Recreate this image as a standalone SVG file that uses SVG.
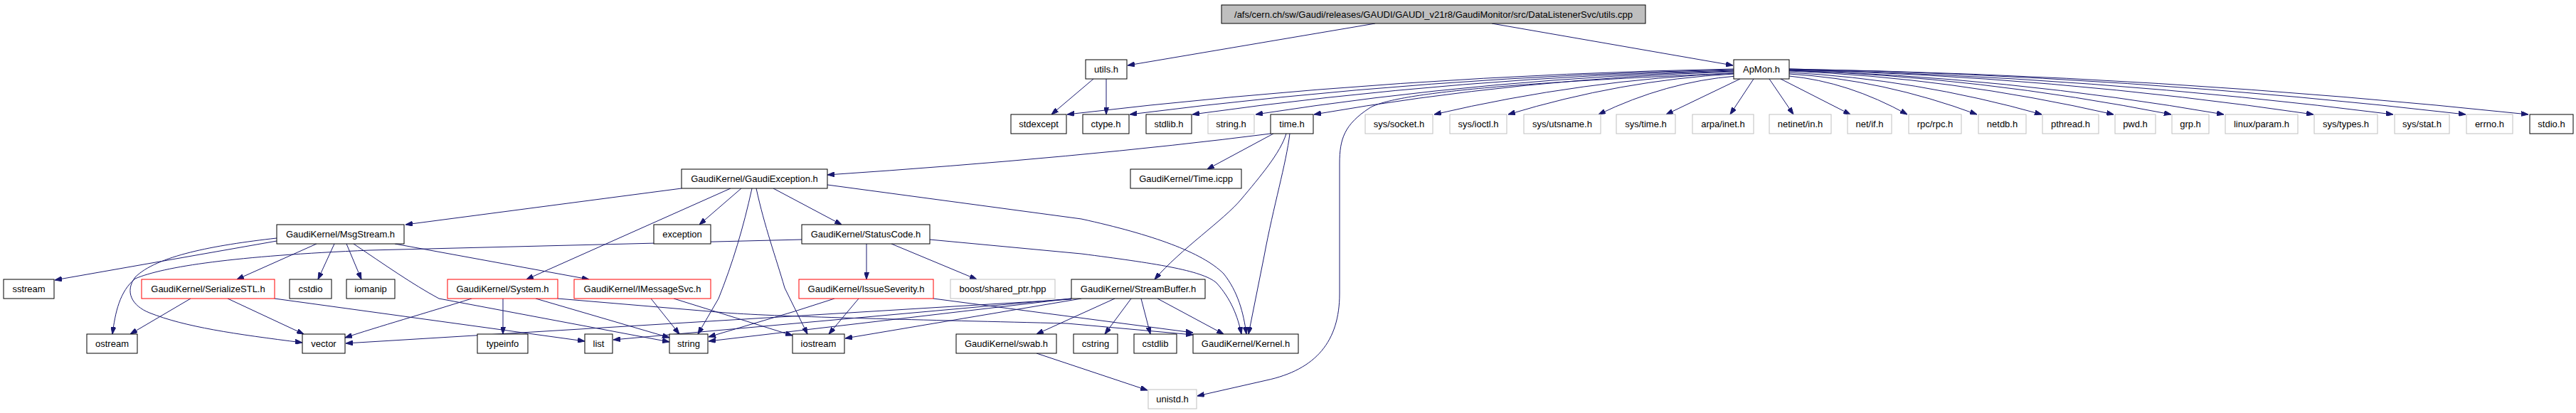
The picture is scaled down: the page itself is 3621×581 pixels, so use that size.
<svg xmlns="http://www.w3.org/2000/svg" width="3621" height="581" viewBox="0 0 3621 581">
<style>
rect{fill:#fff;stroke:#000;stroke-width:1}
.g rect{stroke:#bfbfbf}
.r rect{stroke:#f00}
.root rect{fill:#bfbfbf}
text{font-family:"Liberation Sans",Arial,Helvetica,sans-serif;font-size:13px;text-anchor:middle;fill:#000}
#edges path{fill:none;stroke:#191970;stroke-width:1;marker-end:url(#a)}
</style>
<defs>
<marker id="a" viewBox="0 0 10 7" refX="10" refY="3.5" markerWidth="10" markerHeight="7" markerUnits="userSpaceOnUse" orient="auto">
<path d="M0,0 L10,3.5 L0,7 z" fill="#191970" stroke="#191970"/>
</marker>
</defs>
<rect x="0" y="0" width="3621" height="581" style="fill:#fff;stroke:none"/>
<g id="edges">
<path d="M1933,33 L1585,92"/>
<path d="M2097,33 L2436,92"/>
<path d="M1537,111 L1478,161"/>
<path d="M1555,111 L1555,161"/>
<path d="M2437,97 Q1968,106 1500,161"/>
<path d="M2437,98 Q2012,107 1588,161"/>
<path d="M2437,99 Q2056,108 1676,161"/>
<path d="M2437,100 Q2101,109 1765,161"/>
<path d="M2437,101 Q2142,110 1847,161"/>
<path d="M2437,103 Q2226,112 2016,161"/>
<path d="M2437,104 Q2278,113 2120,161"/>
<path d="M2440,107 Q2342,115 2247,161"/>
<path d="M2446,111 L2342,161"/>
<path d="M2465,111 L2432,161"/>
<path d="M2487,111 L2521,161"/>
<path d="M2503,111 L2601,161"/>
<path d="M2515,107 Q2598,115 2681,161"/>
<path d="M2515,104 Q2647,112 2779,161"/>
<path d="M2515,102 Q2692,111 2870,161"/>
<path d="M2515,100 Q2743,109 2971,161"/>
<path d="M2515,99 Q2783,108 3052,161"/>
<path d="M2515,99 Q2820,108 3126,161"/>
<path d="M2515,98 Q2883,107 3252,161"/>
<path d="M2515,98 Q2939,107 3364,161"/>
<path d="M2515,97 Q2990,106 3466,161"/>
<path d="M2515,97 Q3034,106 3554,161"/>
<path d="M2437,103 C2150,115 1960,130 1925,152 C1890,175 1883,195 1883,230 L1883,413 C1883,480 1850,520 1780,535 L1683,557"/>
<path d="M1786,188 Q1520,222 1163,246"/>
<path d="M1790,188 L1697,238"/>
<path d="M1808,188 C1800,215 1770,250 1745,280 C1720,310 1660,350 1623,393"/>
<path d="M1813,188 C1808,230 1790,290 1777,360 L1755,470"/>
<path d="M958,265 L570,316"/>
<path d="M1042,265 L983,316"/>
<path d="M1027,265 L740,393"/>
<path d="M1063,265 C1075,320 1090,360 1103,405 L1135,470"/>
<path d="M1057,265 C1045,320 1030,370 1010,420 L981,470"/>
<path d="M1087,265 L1183,316"/>
<path d="M1163,260 L1520,308 C1620,330 1690,355 1720,385 C1740,410 1748,440 1752,470"/>
<path d="M1218,343 L1218,393"/>
<path d="M1253,343 L1373,393"/>
<path d="M1307,337 L1520,357 C1620,370 1690,380 1710,398 C1730,420 1740,445 1745,470"/>
<path d="M1127,337 L520,352 C330,360 230,375 190,392 C168,410 162,440 158,470"/>
<path d="M389,339 L77,394"/>
<path d="M389,335 C300,345 220,360 190,390 C175,410 185,430 210,440 C260,460 330,470 425,482"/>
<path d="M445,343 L333,393"/>
<path d="M470,343 L447,393"/>
<path d="M487,343 L508,393"/>
<path d="M555,343 L828,393"/>
<path d="M497,343 C540,372 580,400 617,420 L941,481"/>
<path d="M268,420 L183,470"/>
<path d="M320,420 L427,470"/>
<path d="M386,420 L822,480"/>
<path d="M663,420 C600,440 530,460 485,475"/>
<path d="M707,420 L707,470"/>
<path d="M753,420 L941,475"/>
<path d="M784,420 L1020,440 C1100,446 1300,450 1500,455 L1677,471"/>
<path d="M915,420 L955,470"/>
<path d="M947,420 L1114,472"/>
<path d="M1173,420 L1117,438 L996,474"/>
<path d="M1207,420 L1165,470"/>
<path d="M1312,420 L1677,468"/>
<path d="M1567,420 L1457,470"/>
<path d="M1590,420 L1553,470"/>
<path d="M1604,420 L1617,470"/>
<path d="M1627,420 L1720,470"/>
<path d="M1506,421 L486,483"/>
<path d="M1506,420 L862,478"/>
<path d="M1506,420 L996,480"/>
<path d="M1520,420 L1188,476"/>
<path d="M1457,497 L1613,549"/>
</g>
<g id="nodes">
<g id="n-root" class="root"><rect x="1717" y="7" width="596" height="26"/><text x="2015" y="25">/afs/cern.ch/sw/Gaudi/releases/GAUDI/GAUDI_v21r8/GaudiMonitor/src/DataListenerSvc/utils.cpp</text></g>
<g id="n-utils"><rect x="1526" y="84" width="58" height="27"/><text x="1555" y="102">utils.h</text></g>
<g id="n-apmon"><rect x="2437" y="84" width="78" height="27"/><text x="2476" y="102">ApMon.h</text></g>
<g id="n-stdexcept"><rect x="1421" y="161" width="78" height="27"/><text x="1460" y="179">stdexcept</text></g>
<g id="n-ctype"><rect x="1522" y="161" width="65" height="27"/><text x="1554.5" y="179">ctype.h</text></g>
<g id="n-stdlib"><rect x="1611" y="161" width="64" height="27"/><text x="1643" y="179">stdlib.h</text></g>
<g id="n-string_h" class="g"><rect x="1698" y="161" width="65" height="27"/><text x="1730.5" y="179">string.h</text></g>
<g id="n-time"><rect x="1786" y="161" width="60" height="27"/><text x="1816" y="179">time.h</text></g>
<g id="n-sys_socket" class="g"><rect x="1919" y="161" width="95" height="27"/><text x="1966.5" y="179">sys/socket.h</text></g>
<g id="n-sys_ioctl" class="g"><rect x="2038" y="161" width="80" height="27"/><text x="2078" y="179">sys/ioctl.h</text></g>
<g id="n-sys_utsname" class="g"><rect x="2142" y="161" width="108" height="27"/><text x="2196" y="179">sys/utsname.h</text></g>
<g id="n-sys_time" class="g"><rect x="2272" y="161" width="83" height="27"/><text x="2313.5" y="179">sys/time.h</text></g>
<g id="n-arpa_inet" class="g"><rect x="2379" y="161" width="86" height="27"/><text x="2422" y="179">arpa/inet.h</text></g>
<g id="n-netinet_in" class="g"><rect x="2487" y="161" width="87" height="27"/><text x="2530.5" y="179">netinet/in.h</text></g>
<g id="n-net_if" class="g"><rect x="2597" y="161" width="62" height="27"/><text x="2628" y="179">net/if.h</text></g>
<g id="n-rpc_rpc" class="g"><rect x="2683" y="161" width="74" height="27"/><text x="2720" y="179">rpc/rpc.h</text></g>
<g id="n-netdb" class="g"><rect x="2781" y="161" width="67" height="27"/><text x="2814.5" y="179">netdb.h</text></g>
<g id="n-pthread" class="g"><rect x="2871" y="161" width="79" height="27"/><text x="2910.5" y="179">pthread.h</text></g>
<g id="n-pwd" class="g"><rect x="2973" y="161" width="57" height="27"/><text x="3001.5" y="179">pwd.h</text></g>
<g id="n-grp" class="g"><rect x="3053" y="161" width="52" height="27"/><text x="3079" y="179">grp.h</text></g>
<g id="n-linux_param" class="g"><rect x="3128" y="161" width="102" height="27"/><text x="3179" y="179">linux/param.h</text></g>
<g id="n-sys_types" class="g"><rect x="3253" y="161" width="89" height="27"/><text x="3297.5" y="179">sys/types.h</text></g>
<g id="n-sys_stat" class="g"><rect x="3366" y="161" width="77" height="27"/><text x="3404.5" y="179">sys/stat.h</text></g>
<g id="n-errno" class="g"><rect x="3467" y="161" width="65" height="27"/><text x="3499.5" y="179">errno.h</text></g>
<g id="n-stdio"><rect x="3556" y="161" width="61" height="27"/><text x="3586.5" y="179">stdio.h</text></g>
<g id="n-gaudiexception"><rect x="958" y="238" width="205" height="27"/><text x="1060.5" y="256">GaudiKernel/GaudiException.h</text></g>
<g id="n-time_icpp"><rect x="1589" y="238" width="156" height="27"/><text x="1667" y="256">GaudiKernel/Time.icpp</text></g>
<g id="n-msgstream"><rect x="389" y="316" width="179" height="27"/><text x="478.5" y="334">GaudiKernel/MsgStream.h</text></g>
<g id="n-exception"><rect x="919" y="316" width="80" height="27"/><text x="959" y="334">exception</text></g>
<g id="n-statuscode"><rect x="1127" y="316" width="180" height="27"/><text x="1217" y="334">GaudiKernel/StatusCode.h</text></g>
<g id="n-sstream"><rect x="5" y="393" width="71" height="27"/><text x="40.5" y="411">sstream</text></g>
<g id="n-serializestl" class="r"><rect x="199" y="393" width="187" height="27"/><text x="292.5" y="411">GaudiKernel/SerializeSTL.h</text></g>
<g id="n-cstdio"><rect x="407" y="393" width="59" height="27"/><text x="436.5" y="411">cstdio</text></g>
<g id="n-iomanip"><rect x="487" y="393" width="68" height="27"/><text x="521" y="411">iomanip</text></g>
<g id="n-system" class="r"><rect x="629" y="393" width="155" height="27"/><text x="706.5" y="411">GaudiKernel/System.h</text></g>
<g id="n-imessagesvc" class="r"><rect x="807" y="393" width="192" height="27"/><text x="903" y="411">GaudiKernel/IMessageSvc.h</text></g>
<g id="n-issueseverity" class="r"><rect x="1123" y="393" width="189" height="27"/><text x="1217.5" y="411">GaudiKernel/IssueSeverity.h</text></g>
<g id="n-boost" class="g"><rect x="1336" y="393" width="147" height="27"/><text x="1409.5" y="411">boost/shared_ptr.hpp</text></g>
<g id="n-streambuffer"><rect x="1506" y="393" width="188" height="27"/><text x="1600" y="411">GaudiKernel/StreamBuffer.h</text></g>
<g id="n-ostream"><rect x="122" y="470" width="71" height="27"/><text x="157.5" y="488">ostream</text></g>
<g id="n-vector"><rect x="425" y="470" width="60" height="27"/><text x="455" y="488">vector</text></g>
<g id="n-typeinfo"><rect x="671" y="470" width="71" height="27"/><text x="706.5" y="488">typeinfo</text></g>
<g id="n-list"><rect x="822" y="470" width="39" height="27"/><text x="841.5" y="488">list</text></g>
<g id="n-string"><rect x="941" y="470" width="54" height="27"/><text x="968" y="488">string</text></g>
<g id="n-iostream"><rect x="1114" y="470" width="73" height="27"/><text x="1150.5" y="488">iostream</text></g>
<g id="n-swab"><rect x="1344" y="470" width="141" height="27"/><text x="1414.5" y="488">GaudiKernel/swab.h</text></g>
<g id="n-cstring"><rect x="1509" y="470" width="62" height="27"/><text x="1540" y="488">cstring</text></g>
<g id="n-cstdlib"><rect x="1594" y="470" width="60" height="27"/><text x="1624" y="488">cstdlib</text></g>
<g id="n-kernel"><rect x="1677" y="470" width="148" height="27"/><text x="1751" y="488">GaudiKernel/Kernel.h</text></g>
<g id="n-unistd" class="g"><rect x="1614" y="548" width="68" height="27"/><text x="1648" y="566">unistd.h</text></g>
</g>
</svg>
